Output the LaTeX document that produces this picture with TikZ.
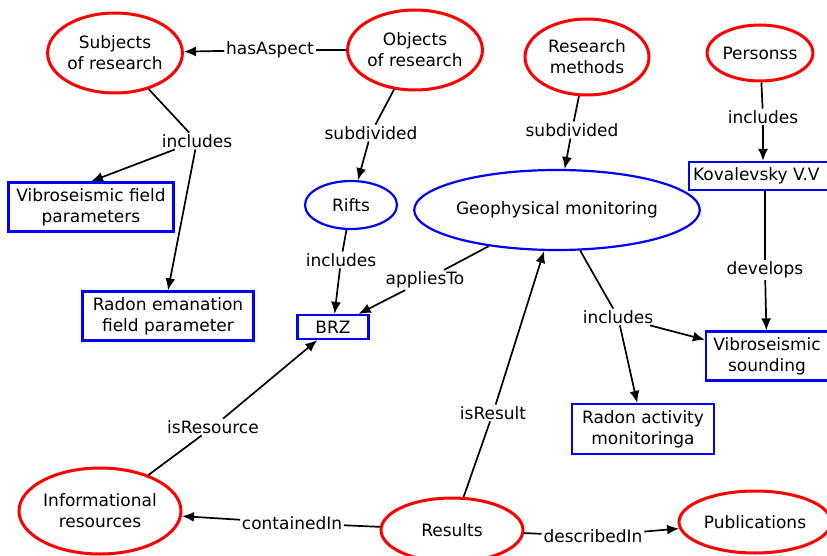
\documentclass[tikz,border=0pt]{standalone}
\usepackage{fontspec}
\setmainfont{DejaVu Sans}
\usetikzlibrary{arrows.meta}
\usetikzlibrary{shapes.geometric}
\tikzset{>={Latex[length=12pt,width=10pt]}}

\begin{document}
\begin{tikzpicture}[x=1pt,y=-1pt,font=\fontsize{17}{21}\selectfont,line width=1.7pt,
	topic/.style={draw=red,ellipse,line width=3pt,inner sep=0pt,align=center},
	item/.style={draw=blue,line width=2.2pt,inner sep=2pt,align=center,minimum height=49pt},
	rel/.style={inner sep=1pt}]
	\clip (0,0) rectangle (827,556);
	\node[topic,minimum width=134pt,minimum height=80pt] (subjects) at (115,53) {Subjects\\of research};
	\node[topic,minimum width=134pt,minimum height=80pt] (objects) at (415,50) {Objects\\of research};
	\node[topic,minimum width=124pt,minimum height=76pt] (methods) at (587,57) {Research\\methods};
	\node[topic,minimum width=104pt,minimum height=56pt] (persons) at (760,53) {Personss};
	\node[draw=blue,ellipse,line width=2.2pt,inner sep=0pt,minimum width=92pt,minimum height=48pt] (rifts) at (351,205) {Rifts};
	\node[draw=blue,ellipse,line width=2.2pt,inner sep=0pt,minimum width=230pt,minimum height=80pt] (geomon) at (557,210) {Geophysical monitoring};
	\node[item,minimum width=165pt] (vibfield) at (91,207) {Vibroseismic field\\parameters};
	\node[item,minimum width=171pt] (radfield) at (168,316) {Radon emanation\\field parameter};
	\node[item,minimum width=71pt,minimum height=24pt] (brz) at (333,327) {BRZ};
	\node[item,anchor=west,inner xsep=4pt,minimum height=28pt] (koval) at (688,176) {Kovalevsky V.V\hspace{10pt}};
	\node[item,minimum width=122pt] (vibsound) at (767,356) {Vibroseismic\\sounding};
	\node[item,minimum width=142pt,minimum height=50pt] (radmon) at (643,429) {Radon activity\\monitoringa};
	\node[topic,minimum width=162pt,minimum height=86pt] (infores) at (100,511) {Informational\\resources};
	\node[topic,minimum width=142pt,minimum height=64pt] (results) at (452,530) {Results};
	\node[topic,minimum width=152pt,minimum height=62pt] (publ) at (755,522) {Publications};
	\node[rel] (hasaspect) at (270,50) {hasAspect};
	\node[rel] (incsubj) at (197,141) {includes};
	\node[rel] (subobj) at (371,133) {subdivided};
	\node[rel] (incrifts) at (341,260) {includes};
	\node[rel] (applies) at (425,280) {appliesTo};
	\node[rel] (submeth) at (572,130) {subdivided};
	\node[rel] (incpers) at (763,117) {includes};
	\node[rel] (develops) at (765,270) {develops};
	\node[rel] (incgeo) at (618,317) {includes};
	\node[rel] (isresult) at (493,413) {isResult};
	\node[rel] (isresource) at (213,427) {isResource};
	\node[rel] (contained) at (292,523) {containedIn};
	\node[rel] (described) at (593,536) {describedIn};
	\draw (objects)--(hasaspect);
	\draw[->] (hasaspect)--(subjects);
	\draw (subjects)--(incsubj);
	\draw[->] (incsubj)--(vibfield.north);
	\draw[->] (incsubj)--(radfield.north);
	\draw (objects)--(subobj);
	\draw[->] (subobj)--(rifts);
	\draw (rifts)--(incrifts);
	\draw[->] (incrifts)--(brz);
	\draw (geomon)--(applies);
	\draw[->] (applies)--(brz);
	\draw (methods)--(submeth);
	\draw[->] (submeth)--(geomon);
	\draw (persons)--(incpers);
	\draw[->] (incpers)--(koval.north-|incpers);
	\draw (koval.south-|develops)--(develops);
	\draw[->] (develops)--(vibsound);
	\draw (geomon)--(incgeo);
	\draw[->] (incgeo)--(vibsound);
	\draw[->] (incgeo)--(radmon);
	\draw (results)--(isresult);
	\draw[->] (isresult)--(geomon);
	\draw (infores)--(isresource);
	\draw[->] (isresource)--(brz);
	\draw (results)--(contained);
	\draw[->] (contained)--(infores);
	\draw (results)--(described);
	\draw[->] (described)--(publ);
\end{tikzpicture}
\end{document}
